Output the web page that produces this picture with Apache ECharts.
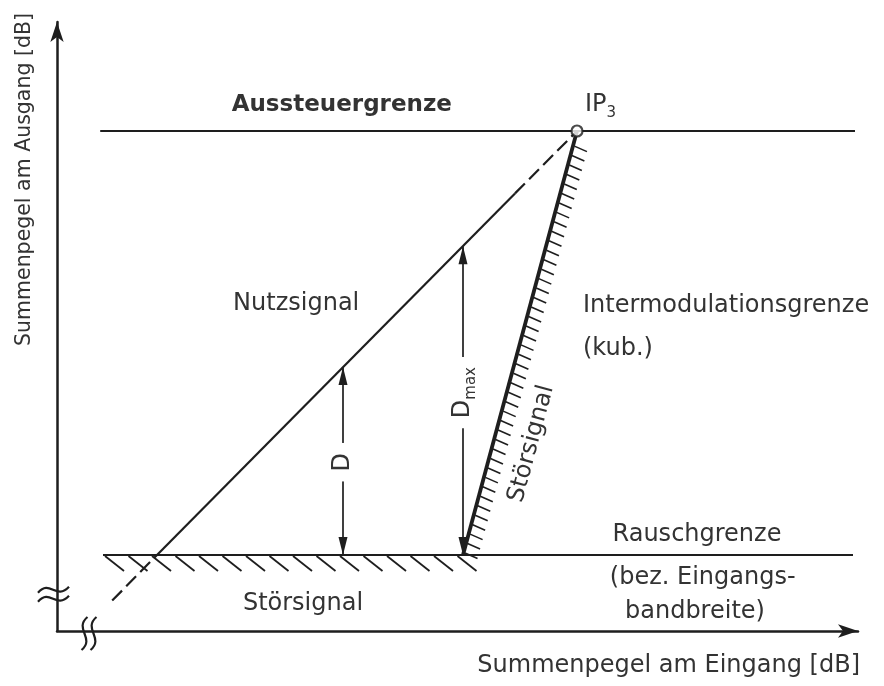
<!DOCTYPE html>
<html><head><meta charset="utf-8">
<script src="https://cdn.jsdelivr.net/npm/echarts@6/dist/echarts.min.js"></script>
<style>html,body{margin:0;padding:0;background:#fff}#c{width:884px;height:686px}</style>
</head><body><div id="c"></div>
<script>
// ---------- data (diagram units: x = input level, y = output level) ----------
const ceilingLevel = 62.5;            // Aussteuergrenze
const ceilingSpan = [5.4, 99.75];
const noiseLevel = 9.5;               // Rauschgrenze
const noiseSpan = [5.75, 99.5];
const noiseHatchSpan = [6.0, 51.9];   // hatched Störsignal region below noise line
const ip3Point = [65, 62.5];
const nutzX = [6.9, 12.5, 57.25, 65]; // Nutzsignal: dashed / solid / dashed
const nutzY = [3.8, 9.5, 54.7, 62.5];
const imX = [50.75, 65];              // Störsignal (3rd order)
const imY = [9.5, 62.5];
const dX = 35.75, dY = [9.5, 33.0];
const dmaxX = 50.75, dmaxY = [9.5, 48.1];
const xBreakAt = 4.0, yBreakAt = 4.6;
const xAxisName = 'Summenpegel am Eingang [dB]';
const yAxisName = 'Summenpegel am Ausgang [dB]';
const labelTexts = [
  'Aussteuergrenze', '{a|IP}{b|3}', 'Nutzsignal', 'Intermodulationsgrenze', '(kub.)',
  'Störsignal', 'Rauschgrenze', '(bez. Eingangs-', 'bandbreite)', 'Störsignal',
  'D', '{a|D}{b|max}'
];

// ---------- layout ----------
const labelAnchors = [
  {x: 35.6, y: 65.7, bold: true, size: 23},
  {x: 66.0, y: 65.8, align: 'left', rich: true},
  {x: 29.9, y: 40.9},
  {x: 65.75, y: 40.6, align: 'left'},
  {x: 65.75, y: 35.3, align: 'left'},
  {x: 59.3, y: 23.4, rot: 75},
  {x: 80.0, y: 12.0},
  {x: 69.1, y: 6.6, align: 'left'},
  {x: 71.0, y: 2.4, align: 'left'},
  {x: 30.75, y: 3.4},
  {x: 35.75, y: 21.1, rot: 90, bg: true},
  {x: 50.75, y: 29.8, rot: 90, bg: true, rich: true}
];
const INK = '#1e1e1e', TXT = '#333', FONT = 'DejaVu Sans', FS = 24;

const chart = echarts.init(document.getElementById('c'));

function arrowHead(tip, from, len, half) {
  const dx = tip[0] - from[0], dy = tip[1] - from[1];
  const L = Math.hypot(dx, dy), ux = dx / L, uy = dy / L;
  const bx = tip[0] - ux * len, by = tip[1] - uy * len;
  return {type: 'polygon', shape: {points: [tip, [bx - uy * half, by + ux * half], [bx + uy * half, by - ux * half]]},
          style: {fill: INK}};
}

const option = {
  animation: false,
  backgroundColor: '#fff',
  grid: {left: 57, right: 26, top: 22, bottom: 55},
  xAxis: {
    type: 'value', min: 0, max: 100.125,
    axisLine: {show: true, lineStyle: {color: INK, width: 2.5}, symbol: ['none', 'arrow'], symbolSize: [10, 20]},
    axisTick: {show: false}, axisLabel: {show: false}, splitLine: {show: false},
    name: xAxisName, nameLocation: 'end', nameGap: 2,
    nameTextStyle: {align: 'right', verticalAlign: 'top', padding: [23, 0, 0, 0], color: TXT, fontSize: 24, fontFamily: FONT}
  },
  yAxis: {
    type: 'value', min: 0, max: 76.125,
    axisLine: {show: true, lineStyle: {color: INK, width: 2.5}, symbol: ['none', 'arrow'], symbolSize: [10, 20]},
    axisTick: {show: false}, axisLabel: {show: false}, splitLine: {show: false},
    name: yAxisName, nameLocation: 'end', nameRotate: 90, nameGap: 9,
    nameTextStyle: {align: 'right', verticalAlign: 'bottom', padding: [0, 0, 22, 0], color: TXT, fontSize: 20.5, fontFamily: FONT}
  },
  series: [
    {type: 'line', name: 'Aussteuergrenze', data: [[ceilingSpan[0], ceilingLevel], [ceilingSpan[1], ceilingLevel]],
     showSymbol: false, lineStyle: {color: INK, width: 2.2}, silent: true},
    {type: 'line', name: 'Rauschgrenze', data: [[noiseSpan[0], noiseLevel], [noiseSpan[1], noiseLevel]],
     showSymbol: false, lineStyle: {color: INK, width: 2.2}, silent: true},
    {type: 'line', name: 'Nutzsignal', data: [[nutzX[1], nutzY[1]], [nutzX[2], nutzY[2]]],
     showSymbol: false, lineStyle: {color: INK, width: 2.2}, silent: true},
    {type: 'line', name: 'Nutzsignal (extrapoliert)',
     data: [[nutzX[0], nutzY[0]], [nutzX[1], nutzY[1]], ['-', '-'], [nutzX[2], nutzY[2]], [nutzX[3], nutzY[3]]],
     showSymbol: false, connectNulls: false, lineStyle: {color: INK, width: 2.2, type: [14, 6]}, silent: true},
    {type: 'line', name: 'Störsignal', data: [[imX[0], imY[0]], [imX[1], imY[1]]],
     showSymbol: false, lineStyle: {color: INK, width: 3.8}, silent: true},
    // hatching
    {type: 'custom', name: 'hatch', silent: true, clip: false,
     data: [[noiseHatchSpan[0], noiseLevel, noiseHatchSpan[1], noiseLevel], [imX[0], imY[0], imX[1], imY[1]]],
     renderItem: function (params, api) {
       const a = api.coord([api.value(0), api.value(1)]);
       const b = api.coord([api.value(2), api.value(3)]);
       const children = [];
       if (params.dataIndex === 0) {
         for (let x = a[0]; x <= b[0]; x += 23.5) {
           children.push({type: 'line', shape: {x1: x, y1: a[1] + 1, x2: x + 19, y2: a[1] + 16},
                          style: {stroke: INK, lineWidth: 1.8}});
         }
       } else {
         const L = Math.hypot(b[0] - a[0], b[1] - a[1]);
         const n = Math.floor((L - 8) / 9.8);
         for (let k = 0; k <= n; k++) {
           const t = (k * 9.8 + 2) / L;
           const x = a[0] + (b[0] - a[0]) * t, y = a[1] + (b[1] - a[1]) * t;
           children.push({type: 'line', shape: {x1: x + 1.5, y1: y, x2: x + 14, y2: y + 5.5},
                          style: {stroke: INK, lineWidth: 1.6}});
         }
       }
       return {type: 'group', children: children};
     }},
    // dimension arrows D and Dmax
    {type: 'custom', name: 'arrows', silent: true, clip: false,
     data: [[dX, dY[0], dY[1]], [dmaxX, dmaxY[0], dmaxY[1]]],
     renderItem: function (params, api) {
       const p0 = api.coord([api.value(0), api.value(1)]);
       const p1 = api.coord([api.value(0), api.value(2)]);
       return {type: 'group', children: [
         {type: 'line', shape: {x1: p0[0], y1: p0[1], x2: p1[0], y2: p1[1]}, style: {stroke: INK, lineWidth: 1.7}},
         arrowHead(p0, p1, 18, 4.5), arrowHead(p1, p0, 18, 4.5)
       ]};
     }},
    // axis break marks
    {type: 'custom', name: 'breaks', silent: true, clip: false,
     data: [[xBreakAt, 0, 0], [0, yBreakAt, 1]],
     renderItem: function (params, api) {
       const c = api.coord([api.value(0), api.value(1)]);
       const vertical = api.value(2) === 0;
       const ch = [];
       [-4.5, 4.5].forEach(function (o) {
         let s;
         if (vertical) {
           const x = c[0] + o;
           s = {x1: x + 3, y1: c[1] - 14, cpx1: x - 11, cpy1: c[1] - 2, cpx2: x + 11, cpy2: c[1] + 7, x2: x - 3, y2: c[1] + 19};
         } else {
           const y = c[1] + o;
           s = {x1: c[0] - 19, y1: y + 3, cpx1: c[0] - 7, cpy1: y - 11, cpx2: c[0] - 1, cpy2: y + 11, x2: c[0] + 12, y2: y - 3};
         }
         ch.push({type: 'bezierCurve', shape: s, style: {stroke: INK, lineWidth: 2.2, fill: null}});
       });
       return {type: 'group', children: ch};
     }},
    // IP3 point
    {type: 'scatter', name: 'IP3', data: [ip3Point], symbol: 'circle', symbolSize: 11, z: 5, silent: true,
     itemStyle: {color: '#fff', borderColor: INK, borderWidth: 2.2}},
    // text annotations
    {type: 'custom', name: 'labels', silent: true, clip: false, z: 6,
     data: labelAnchors.map(function (a) { return [a.x, a.y]; }),
     renderItem: function (params, api) {
       const i = params.dataIndex, a = labelAnchors[i];
       const p = api.coord([api.value(0), api.value(1)]);
       const fs = a.size || FS;
       const style = {
         text: labelTexts[i], fill: TXT, fontSize: fs, fontFamily: FONT,
         fontWeight: a.bold ? 'bold' : 'normal',
         align: a.align || 'center', verticalAlign: 'middle'
       };
       if (a.rich) {
         style.rich = {a: {fontSize: fs, fontFamily: FONT, fill: TXT, lineHeight: 32, verticalAlign: 'middle'},
                       b: {fontSize: 15, fontFamily: FONT, fill: TXT, lineHeight: 32, verticalAlign: 'bottom'}};
       }
       if (a.bg) { style.backgroundColor = '#fff'; style.padding = [0, 10]; }
       return {type: 'text', x: p[0], y: p[1], rotation: (a.rot || 0) * Math.PI / 180, style: style};
     }}
  ]
};
chart.setOption(option);
</script></body></html>
